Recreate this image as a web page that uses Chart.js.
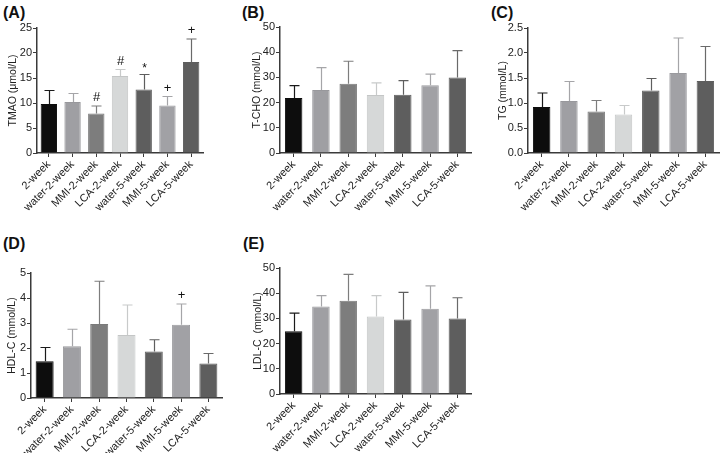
<!DOCTYPE html>
<html>
<head>
<meta charset="utf-8">
<script src="https://cdn.jsdelivr.net/npm/chart.js@4/dist/chart.umd.min.js"></script>
<style>
  html, body { margin:0; padding:0; background:#fff; width:720px; height:453px; overflow:hidden; }
  .cv { position:absolute; }
  .lbl { position:absolute; font: bold 16px "Liberation Sans", Arial, sans-serif; color:#111; line-height:16px; }
</style>
</head>
<body>
<div class="lbl" style="left:3px;top:5px">(A)</div>
<div class="lbl" style="left:242px;top:5px">(B)</div>
<div class="lbl" style="left:491px;top:5px">(C)</div>
<div class="lbl" style="left:3px;top:236px">(D)</div>
<div class="lbl" style="left:243px;top:236px">(E)</div>

<canvas id="cA" class="cv" style="left:0px;top:0px"></canvas>
<canvas id="cB" class="cv" style="left:230px;top:0px"></canvas>
<canvas id="cC" class="cv" style="left:470px;top:0px"></canvas>
<canvas id="cD" class="cv" style="left:0px;top:228px"></canvas>
<canvas id="cE" class="cv" style="left:230px;top:228px"></canvas>

<script>
// ---- Data ----
const groups = ['2-week','water-2-week','MMI-2-week','LCA-2-week','water-5-week','MMI-5-week','LCA-5-week'];

const tmaoMean = [9.8, 10.2, 7.9, 15.4, 12.7, 9.5, 18.2];
const tmaoErr  = [12.5, 11.9, 9.4, 16.7, 15.7, 11.3, 22.8];
const tmaoMarks = ['', '', '#', '#', '*', '+', '+'];

const tchoMean = [21.8, 25.0, 27.5, 23.0, 23.1, 26.9, 30.0];
const tchoErr  = [26.7, 33.9, 36.4, 27.8, 28.7, 31.3, 40.6];

const tgMean = [0.92, 1.04, 0.83, 0.77, 1.25, 1.60, 1.44];
const tgErr  = [1.20, 1.43, 1.05, 0.95, 1.49, 2.30, 2.13];

const hdlMean = [1.47, 2.07, 2.96, 2.52, 1.86, 2.93, 1.38];
const hdlErr  = [2.02, 2.75, 4.67, 3.72, 2.33, 3.76, 1.78];
const hdlMarks = ['', '', '', '', '', '+', ''];

const ldlMean = [24.9, 34.7, 37.0, 30.8, 29.6, 33.8, 30.0];
const ldlErr  = [32.1, 39.0, 47.5, 39.0, 40.3, 42.9, 38.2];

// ---- Styles ----
const barColors = ['#0d0d0d','#9f9fa3','#7d7d7d','#d6d8d8','#5e5e5e','#a1a1a5','#5e5e5e'];
const barBorders = ['#0d0d0d','#98989c','#7a7a7a','#c4c6c6','#5e5e5e','#9a9a9e','#5e5e5e'];
const errColors = ['#1a1a1a','#a5a5a8','#7d7d7d','#c8caca','#5e5e5e','#a5a5a8','#6a6a6a'];
const FONT = '"Liberation Sans", Arial, sans-serif';
const TXT = '#222';
const AX = '#3a3a3a';

const errPlugin = {
  id: 'errbars',
  afterDatasetsDraw(chart) {
    const o = chart.options.plugins.errbars;
    const meta = chart.getDatasetMeta(0);
    const ys = chart.scales.y;
    const ctx = chart.ctx;
    ctx.save();
    meta.data.forEach((bar, i) => {
      const top = ys.getPixelForValue(o.err[i]);
      const x = Math.round(bar.x) + 0.5;
      ctx.strokeStyle = errColors[i];
      ctx.lineWidth = 1.2;
      ctx.beginPath();
      ctx.moveTo(x, bar.y);
      ctx.lineTo(x, top);
      ctx.moveTo(x - 5, top);
      ctx.lineTo(x + 5, top);
      ctx.stroke();
      const m = o.marks ? o.marks[i] : '';
      if (m) {
        ctx.fillStyle = '#111';
        ctx.textAlign = 'center';
        ctx.textBaseline = 'bottom';
        ctx.font = (m === '*' ? '12px ' : '13px ') + FONT;
        ctx.fillText(m, x, top - (m === '*' ? 0 : 2));
      }
    });
    ctx.restore();
  }
};

function makeChart(id, w, h, cfg) {
  const cv = document.getElementById(id);
  cv.width = w; cv.height = h;
  cv.style.width = w + 'px'; cv.style.height = h + 'px';
  return new Chart(cv, {
    type: 'bar',
    data: {
      labels: groups,
      datasets: [{
        data: cfg.mean,
        backgroundColor: barColors,
        borderColor: barBorders,
        borderWidth: 1,
        barPercentage: cfg.barPct,
        categoryPercentage: 1.0
      }]
    },
    options: {
      responsive: false,
      animation: false,
      devicePixelRatio: 1,
      layout: { padding: { top: cfg.padTop, right: cfg.padRight, left: 0, bottom: 0 } },
      plugins: {
        legend: { display: false },
        tooltip: { enabled: false },
        errbars: { err: cfg.err, marks: cfg.marks }
      },
      scales: {
        x: {
          grid: { display: true, drawOnChartArea: false, drawTicks: true, tickLength: 4, color: AX, offset: false, lineWidth: 1 },
          border: { display: true, color: AX, width: 1.5 },
          ticks: { color: TXT, font: { family: FONT, size: 11 }, minRotation: 45, maxRotation: 45, padding: 1, autoSkip: false },
          afterFit(s) { s.height = cfg.xH; }
        },
        y: {
          min: 0, max: cfg.max,
          grid: { display: true, drawOnChartArea: false, drawTicks: true, tickLength: 4, color: AX, lineWidth: 1 },
          border: { display: true, color: AX, width: 1.5 },
          ticks: { color: TXT, font: { family: FONT, size: 11 }, stepSize: cfg.step, padding: 1,
                   callback: cfg.fmt || ((v) => v) },
          title: { display: true, text: cfg.title, color: TXT, font: { family: FONT, size: 10.5 }, padding: { top: cfg.titlePad, bottom: 0 } },
          afterFit(s) { s.width = cfg.yW; }
        }
      }
    },
    plugins: [errPlugin]
  });
}

makeChart('cA', 210, 225, { mean: tmaoMean, err: tmaoErr, marks: tmaoMarks, max: 25, step: 5,
  title: 'TMAO (μmol/L)', yW: 37, xH: 72, padTop: 28, padRight: 7, titlePad: 7, barPct: 0.69 });
makeChart('cB', 245, 225, { mean: tchoMean, err: tchoErr, max: 50, step: 10,
  title: 'T-CHO (mmol/L)', yW: 50, xH: 72, padTop: 27, padRight: 4, titlePad: 21, barPct: 0.64 });
makeChart('cC', 250, 225, { mean: tgMean, err: tgErr, max: 2.5, step: 0.5,
  title: 'TG (mmol/L)', yW: 58, xH: 72, padTop: 28, padRight: 1, titlePad: 27, barPct: 0.64,
  fmt: (v) => Number(v).toFixed(1) });
makeChart('cD', 230, 225, { mean: hdlMean, err: hdlErr, marks: hdlMarks, max: 5, step: 1,
  title: 'HDL-C (mmol/L)', yW: 31, xH: 55, padTop: 45, padRight: 8, titlePad: 6, barPct: 0.66 });
makeChart('cE', 245, 225, { mean: ldlMean, err: ldlErr, max: 50, step: 10,
  title: 'LDL-C  (mmol/L)', yW: 50, xH: 59, padTop: 40, padRight: 4, titlePad: 22, barPct: 0.64 });
</script>
</body>
</html>
